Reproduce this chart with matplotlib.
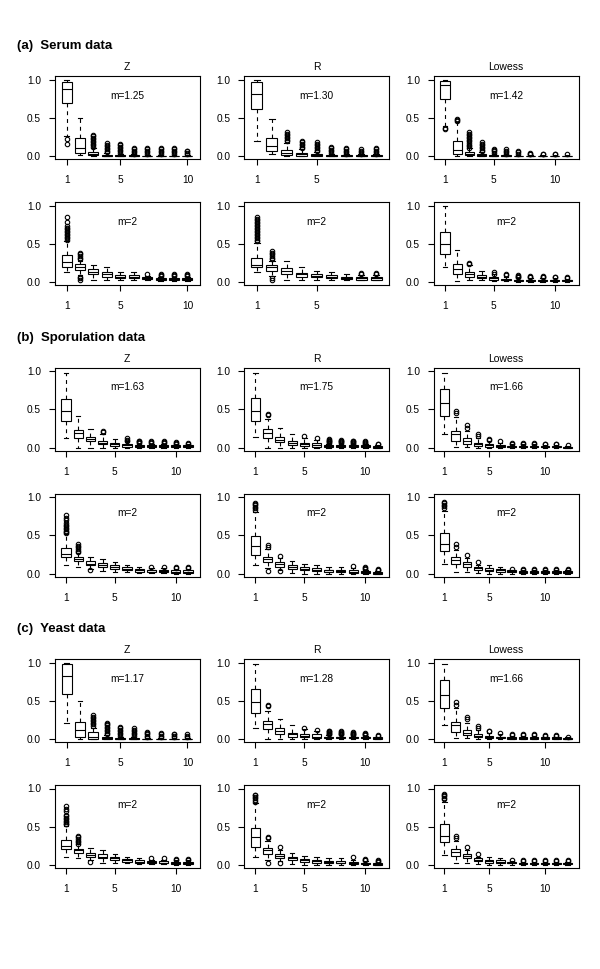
import matplotlib
matplotlib.use("Agg")
import matplotlib.pyplot as plt

plt.rcParams["font.family"] = ["Liberation Sans", "DejaVu Sans"]

# each box: (lower whisker, Q1, median, Q3, upper whisker)
# ---------------- (a) Serum data ----------------
serum_z1_boxes = [
    (0.26, 0.69, 0.87, 0.97, 1.00), (0.01, 0.035, 0.11, 0.24, 0.50),
    (0.00, 0.01, 0.025, 0.05, 0.11), (0.00, 0.00, 0.005, 0.015, 0.04),
    (0.00, 0.00, 0.003, 0.01, 0.03), (0.00, 0.00, 0.002, 0.008, 0.02),
    (0.00, 0.00, 0.002, 0.006, 0.015), (0.00, 0.00, 0.002, 0.006, 0.015),
    (0.00, 0.00, 0.002, 0.006, 0.015), (0.00, 0.00, 0.001, 0.005, 0.012),
]
serum_z1_fliers = [
    [0.22, 0.16], [],
    [0.12, 0.14, 0.16, 0.18, 0.20, 0.22, 0.24, 0.26, 0.27],
    [0.05, 0.07, 0.09, 0.11, 0.13, 0.15, 0.17],
    [0.04, 0.06, 0.08, 0.10, 0.12, 0.14, 0.16],
    [0.03, 0.05, 0.07, 0.09, 0.11],
    [0.03, 0.05, 0.07, 0.09, 0.10],
    [0.03, 0.05, 0.07, 0.09, 0.10],
    [0.03, 0.05, 0.07, 0.09, 0.11],
    [0.02, 0.04, 0.06, 0.07],
]
serum_r1_boxes = [
    (0.19, 0.61, 0.81, 0.97, 1.00), (0.03, 0.06, 0.13, 0.24, 0.49),
    (0.00, 0.01, 0.04, 0.08, 0.17), (0.00, 0.005, 0.02, 0.04, 0.09),
    (0.00, 0.00, 0.01, 0.02, 0.05), (0.00, 0.00, 0.005, 0.01, 0.03),
    (0.00, 0.00, 0.003, 0.008, 0.02), (0.00, 0.00, 0.003, 0.008, 0.02),
    (0.00, 0.00, 0.003, 0.008, 0.02),
]
serum_r1_fliers = [
    [], [],
    [0.19, 0.21, 0.23, 0.25, 0.27, 0.29, 0.31],
    [0.10, 0.12, 0.14, 0.16, 0.18, 0.20],
    [0.06, 0.08, 0.10, 0.12, 0.14, 0.16, 0.18],
    [0.04, 0.06, 0.08, 0.10, 0.12],
    [0.03, 0.05, 0.07, 0.09, 0.10],
    [0.03, 0.05, 0.07, 0.09],
    [0.03, 0.05, 0.07, 0.09, 0.10],
]
serum_l1_boxes = [
    (0.39, 0.74, 0.93, 0.98, 1.00), (0.00, 0.03, 0.08, 0.20, 0.44),
    (0.00, 0.01, 0.02, 0.05, 0.10), (0.00, 0.00, 0.01, 0.02, 0.05),
    (0.00, 0.00, 0.005, 0.01, 0.03), (0.00, 0.00, 0.003, 0.008, 0.02),
    (0.00, 0.00, 0.003, 0.006, 0.015), (0.00, 0.00, 0.002, 0.005, 0.01),
    (0.00, 0.00, 0.002, 0.005, 0.01), (0.00, 0.00, 0.002, 0.005, 0.01),
    (0.00, 0.00, 0.002, 0.005, 0.01),
]
serum_l1_fliers = [
    [0.37, 0.35], [0.46, 0.47, 0.48],
    [0.11, 0.13, 0.15, 0.17, 0.19, 0.21, 0.23, 0.25, 0.27, 0.29, 0.31],
    [0.06, 0.08, 0.10, 0.12, 0.14, 0.16, 0.18],
    [0.04, 0.06, 0.08, 0.09],
    [0.03, 0.05, 0.07, 0.09],
    [0.03, 0.05, 0.07],
    [0.02, 0.03, 0.04], [0.02, 0.03], [0.02, 0.03], [0.02],
]
serum_z2_boxes = [
    (0.13, 0.20, 0.26, 0.35, 0.53), (0.09, 0.16, 0.20, 0.23, 0.28),
    (0.03, 0.10, 0.13, 0.17, 0.22), (0.03, 0.07, 0.10, 0.13, 0.19),
    (0.02, 0.05, 0.07, 0.09, 0.13), (0.02, 0.05, 0.07, 0.09, 0.13),
    (0.02, 0.035, 0.05, 0.06, 0.08), (0.01, 0.03, 0.04, 0.05, 0.07),
    (0.01, 0.03, 0.04, 0.05, 0.07), (0.01, 0.03, 0.04, 0.05, 0.07),
]
serum_z2_fliers = [
    [0.55, 0.57, 0.59, 0.61, 0.63, 0.65, 0.67, 0.69, 0.71, 0.73, 0.78, 0.85],
    [0.30, 0.32, 0.34, 0.36, 0.38, 0.03, 0.05, 0.07],
    [], [], [], [],
    [0.10], [0.08, 0.09, 0.10], [0.08, 0.09, 0.10], [0.08, 0.09, 0.10],
]
serum_r2_boxes = [
    (0.13, 0.19, 0.22, 0.32, 0.51), (0.08, 0.15, 0.19, 0.22, 0.28),
    (0.02, 0.11, 0.14, 0.18, 0.27), (0.02, 0.07, 0.10, 0.12, 0.19),
    (0.02, 0.06, 0.08, 0.10, 0.14), (0.02, 0.05, 0.07, 0.09, 0.13),
    (0.02, 0.04, 0.05, 0.06, 0.10), (0.02, 0.03, 0.05, 0.06, 0.09),
    (0.02, 0.03, 0.05, 0.06, 0.09),
]
serum_r2_fliers = [
    [0.53, 0.55, 0.57, 0.59, 0.61, 0.63, 0.65, 0.67, 0.69, 0.71, 0.73,
     0.75, 0.77, 0.79, 0.81, 0.83, 0.85],
    [0.30, 0.32, 0.34, 0.36, 0.38, 0.40, 0.03, 0.05],
    [], [], [], [], [], [0.10, 0.12], [0.10, 0.12],
]
serum_l2_boxes = [
    (0.19, 0.36, 0.50, 0.66, 1.00), (0.01, 0.10, 0.17, 0.24, 0.42),
    (0.02, 0.07, 0.10, 0.13, 0.22), (0.02, 0.05, 0.07, 0.09, 0.15),
    (0.01, 0.03, 0.05, 0.06, 0.10), (0.01, 0.02, 0.03, 0.04, 0.07),
    (0.00, 0.01, 0.02, 0.03, 0.05), (0.00, 0.01, 0.02, 0.03, 0.05),
    (0.00, 0.01, 0.02, 0.03, 0.05), (0.00, 0.01, 0.02, 0.03, 0.05),
    (0.00, 0.01, 0.02, 0.03, 0.04),
]
serum_l2_fliers = [
    [], [], [0.24, 0.25], [], [0.11, 0.13], [0.09, 0.11],
    [0.06, 0.07, 0.08, 0.09], [0.06, 0.07, 0.08], [0.06, 0.07, 0.08],
    [0.06, 0.07], [0.05, 0.06],
]

# ---------------- (b) Sporulation data ----------------
spor_z1_boxes = [
    (0.125, 0.34, 0.48, 0.64, 0.97), (0.00, 0.13, 0.19, 0.23, 0.41),
    (0.00, 0.08, 0.11, 0.14, 0.245), (0.00, 0.04, 0.06, 0.09, 0.17),
    (0.00, 0.02, 0.04, 0.06, 0.11), (0.00, 0.01, 0.03, 0.05, 0.08),
    (0.00, 0.01, 0.02, 0.03, 0.05), (0.00, 0.01, 0.02, 0.03, 0.05),
    (0.00, 0.01, 0.02, 0.03, 0.05), (0.00, 0.01, 0.02, 0.03, 0.04),
    (0.00, 0.01, 0.02, 0.03, 0.04),
]
spor_z1_fliers = [
    [], [], [], [0.20, 0.22], [], [0.09, 0.10, 0.12],
    [0.06, 0.07, 0.08, 0.09], [0.06, 0.07, 0.08], [0.06, 0.07, 0.08],
    [0.05, 0.06, 0.07], [0.05, 0.06],
]
spor_r1_boxes = [
    (0.14, 0.34, 0.48, 0.65, 0.98), (0.00, 0.13, 0.19, 0.24, 0.37),
    (0.00, 0.07, 0.10, 0.14, 0.26), (0.00, 0.03, 0.06, 0.08, 0.18),
    (0.00, 0.02, 0.04, 0.06, 0.13), (0.00, 0.01, 0.03, 0.06, 0.10),
    (0.00, 0.01, 0.02, 0.03, 0.05), (0.00, 0.01, 0.02, 0.03, 0.05),
    (0.00, 0.01, 0.02, 0.03, 0.04), (0.00, 0.01, 0.02, 0.03, 0.04),
    (0.00, 0.00, 0.01, 0.02, 0.03),
]
spor_r1_fliers = [
    [], [0.43, 0.44], [], [], [0.15], [0.12],
    [0.06, 0.07, 0.08, 0.09, 0.10, 0.11], [0.06, 0.07, 0.08, 0.09, 0.10],
    [0.05, 0.06, 0.07, 0.08, 0.09], [0.05, 0.06, 0.07, 0.08], [0.04, 0.05],
]
spor_l1_boxes = [
    (0.18, 0.41, 0.58, 0.77, 0.98), (0.01, 0.09, 0.18, 0.22, 0.40),
    (0.01, 0.05, 0.08, 0.12, 0.21), (0.00, 0.02, 0.04, 0.06, 0.12),
    (0.00, 0.01, 0.03, 0.04, 0.08), (0.00, 0.01, 0.02, 0.03, 0.06),
    (0.00, 0.005, 0.01, 0.02, 0.04), (0.00, 0.005, 0.01, 0.02, 0.04),
    (0.00, 0.005, 0.01, 0.02, 0.04), (0.00, 0.005, 0.01, 0.02, 0.03),
    (0.00, 0.005, 0.01, 0.02, 0.03), (0.00, 0.00, 0.005, 0.01, 0.02),
]
spor_l1_fliers = [
    [], [0.45, 0.48], [0.26, 0.29], [0.15, 0.17], [0.10, 0.11], [0.08],
    [0.05, 0.06], [0.05, 0.06], [0.05, 0.06], [0.04, 0.05], [0.04, 0.05],
    [0.03],
]
spor_z2_boxes = [
    (0.11, 0.21, 0.25, 0.33, 0.51), (0.09, 0.16, 0.19, 0.21, 0.27),
    (0.06, 0.11, 0.13, 0.16, 0.22), (0.03, 0.09, 0.11, 0.14, 0.19),
    (0.02, 0.06, 0.09, 0.11, 0.15), (0.02, 0.04, 0.06, 0.08, 0.11),
    (0.01, 0.02, 0.04, 0.06, 0.09), (0.01, 0.02, 0.04, 0.05, 0.07),
    (0.01, 0.02, 0.03, 0.05, 0.07), (0.00, 0.01, 0.02, 0.04, 0.06),
    (0.00, 0.01, 0.02, 0.04, 0.06),
]
spor_z2_fliers = [
    [0.53, 0.54, 0.56, 0.58, 0.60, 0.62, 0.64, 0.66, 0.70, 0.73, 0.77],
    [0.28, 0.30, 0.32, 0.34, 0.36, 0.38],
    [0.04], [], [], [], [], [0.09], [0.09], [0.07, 0.08], [0.07, 0.08],
]
spor_r2_boxes = [
    (0.11, 0.24, 0.36, 0.49, 0.81), (0.07, 0.15, 0.19, 0.22, 0.32),
    (0.05, 0.09, 0.12, 0.15, 0.20), (0.01, 0.06, 0.09, 0.11, 0.16),
    (0.00, 0.04, 0.06, 0.08, 0.12), (0.00, 0.03, 0.05, 0.07, 0.11),
    (0.00, 0.02, 0.04, 0.05, 0.09), (0.00, 0.02, 0.03, 0.05, 0.09),
    (0.00, 0.01, 0.02, 0.04, 0.07), (0.00, 0.01, 0.02, 0.03, 0.05),
    (0.00, 0.00, 0.01, 0.02, 0.03),
]
spor_r2_fliers = [
    [0.83, 0.85, 0.87, 0.89, 0.91, 0.92],
    [0.35, 0.37, 0.03], [0.23, 0.03], [], [], [], [], [], [0.10],
    [0.06, 0.07, 0.08], [0.04, 0.05, 0.06],
]
spor_l2_boxes = [
    (0.13, 0.30, 0.38, 0.53, 0.82), (0.02, 0.12, 0.17, 0.21, 0.31),
    (0.02, 0.09, 0.12, 0.15, 0.20), (0.01, 0.05, 0.07, 0.09, 0.11),
    (0.00, 0.03, 0.05, 0.07, 0.11), (0.00, 0.02, 0.04, 0.06, 0.09),
    (0.00, 0.02, 0.03, 0.04, 0.05), (0.00, 0.01, 0.02, 0.03, 0.04),
    (0.00, 0.01, 0.02, 0.03, 0.04), (0.00, 0.01, 0.02, 0.03, 0.04),
    (0.00, 0.01, 0.02, 0.03, 0.04), (0.00, 0.01, 0.02, 0.03, 0.04),
]
spor_l2_fliers = [
    [0.86, 0.88, 0.90, 0.92, 0.93], [0.35, 0.38], [0.24], [0.15], [], [],
    [0.06], [0.05, 0.06], [0.05, 0.06], [0.05, 0.06], [0.05, 0.06],
    [0.05, 0.06],
]

# ---------------- (c) Yeast data ----------------
yeast_z1_boxes = [
    (0.21, 0.59, 0.83, 0.98, 1.00), (0.00, 0.02, 0.12, 0.22, 0.50),
    (0.00, 0.00, 0.03, 0.09, 0.15), (0.00, 0.00, 0.01, 0.03, 0.05),
    (0.00, 0.00, 0.005, 0.01, 0.03), (0.00, 0.00, 0.005, 0.01, 0.03),
    (0.00, 0.00, 0.003, 0.006, 0.015), (0.00, 0.00, 0.003, 0.006, 0.015),
    (0.00, 0.00, 0.003, 0.006, 0.015), (0.00, 0.00, 0.003, 0.006, 0.015),
]
yeast_z1_fliers = [
    [], [],
    [0.17, 0.19, 0.21, 0.23, 0.25, 0.27, 0.29, 0.31],
    [0.06, 0.08, 0.10, 0.12, 0.14, 0.16, 0.18, 0.20, 0.21],
    [0.04, 0.06, 0.08, 0.10, 0.12, 0.14, 0.16],
    [0.04, 0.06, 0.08, 0.10, 0.12, 0.14],
    [0.02, 0.04, 0.06, 0.08, 0.09],
    [0.02, 0.04, 0.06, 0.08],
    [0.02, 0.04, 0.06, 0.07],
    [0.02, 0.04, 0.06],
]
# the yeast R / Lowess and m=2 panels look identical to the sporulation ones
yeast_r1_boxes, yeast_r1_fliers = spor_r1_boxes, spor_r1_fliers
yeast_l1_boxes, yeast_l1_fliers = spor_l1_boxes, spor_l1_fliers
yeast_z2_boxes, yeast_z2_fliers = spor_z2_boxes, spor_z2_fliers
yeast_r2_boxes, yeast_r2_fliers = spor_r2_boxes, spor_r2_fliers
yeast_l2_boxes, yeast_l2_fliers = spor_l2_boxes, spor_l2_fliers

section_titles = ["(a)  Serum data", "(b)  Sporulation data", "(c)  Yeast data"]
column_titles = ["Z", "R", "Lowess"]
m_labels = [
    ["m=1.25", "m=1.30", "m=1.42"],
    ["m=1.63", "m=1.75", "m=1.66"],
    ["m=1.17", "m=1.28", "m=1.66"],
]
panels = [
    [[(serum_z1_boxes, serum_z1_fliers), (serum_r1_boxes, serum_r1_fliers), (serum_l1_boxes, serum_l1_fliers)],
     [(serum_z2_boxes, serum_z2_fliers), (serum_r2_boxes, serum_r2_fliers), (serum_l2_boxes, serum_l2_fliers)]],
    [[(spor_z1_boxes, spor_z1_fliers), (spor_r1_boxes, spor_r1_fliers), (spor_l1_boxes, spor_l1_fliers)],
     [(spor_z2_boxes, spor_z2_fliers), (spor_r2_boxes, spor_r2_fliers), (spor_l2_boxes, spor_l2_fliers)]],
    [[(yeast_z1_boxes, yeast_z1_fliers), (yeast_r1_boxes, yeast_r1_fliers), (yeast_l1_boxes, yeast_l1_fliers)],
     [(yeast_z2_boxes, yeast_z2_fliers), (yeast_r2_boxes, yeast_r2_fliers), (yeast_l2_boxes, yeast_l2_fliers)]],
]

W, H = 600, 969
LW = 0.8


def draw_panel(ax, boxes, fliers, label):
    stats = []
    for (lo, q1, med, q3, hi), f in zip(boxes, fliers):
        stats.append(dict(whislo=lo, q1=q1, med=med, q3=q3, whishi=hi, fliers=f))
    n = len(stats)
    ax.bxp(
        stats,
        positions=list(range(1, n + 1)),
        widths=0.75,
        capwidths=0.37,
        patch_artist=True,
        manage_ticks=False,
        boxprops=dict(facecolor="white", edgecolor="black", linewidth=LW),
        whiskerprops=dict(color="black", linewidth=LW, linestyle=(0, (3.5, 3.5))),
        capprops=dict(color="black", linewidth=LW),
        medianprops=dict(color="black", linewidth=LW),
        flierprops=dict(marker="o", markerfacecolor="none", markeredgecolor="black",
                        markersize=3.2, markeredgewidth=0.8, linestyle="none"),
    )
    pad = 0.04 * n
    ax.set_xlim(0.5 - pad, n + 0.5 + pad)
    ax.set_ylim(-0.04, 1.04)
    ticks = [t for t in (1, 5, 10) if t <= n + 0.5 + pad]
    ax.set_xticks(ticks)
    ax.set_xticklabels([str(t) for t in ticks])
    ax.set_yticks([0.0, 0.5, 1.0])
    ax.set_yticklabels(["0.0", "0.5", "1.0"])
    ax.tick_params(axis="both", direction="out", length=4.3, width=LW,
                   labelsize=7.3, colors="black")
    ax.tick_params(axis="x", pad=7.5)
    ax.tick_params(axis="y", pad=5.5)
    for sp in ax.spines.values():
        sp.set_linewidth(LW)
    ax.text(0.5, 0.79, label, transform=ax.get_yaxis_transform(),
            ha="center", va="center", fontsize=7.3)


fig = plt.figure(figsize=(W / 100, H / 100), dpi=100)
col_left = [54.5, 244, 433.5]
col_w = 145
section_off = [0, 291.5, 583]
zero_y = [156, 282]      # pixel row of y=0 in the serum block
unit = 76.5              # pixels per 1.0

for s in range(3):
    fig.text(17 / W, 1 - (46 + section_off[s]) / H, section_titles[s],
             fontsize=9.5, fontweight="bold", va="center", ha="left")
    for r in range(2):
        y0 = zero_y[r] + section_off[s]
        top = y0 - 1.04 * unit
        bottom = y0 + 0.04 * unit
        for c in range(3):
            ax = fig.add_axes([col_left[c] / W, 1 - bottom / H,
                               col_w / W, (bottom - top) / H])
            boxes, fliers = panels[s][r][c]
            label = m_labels[s][c] if r == 0 else "m=2"
            draw_panel(ax, boxes, fliers, label)
            if r == 0:
                ax.text(0.5, 1 + 9 / (bottom - top), column_titles[c],
                        transform=ax.transAxes, ha="center", va="center",
                        fontsize=7.5)

fig.savefig("out.png", dpi=100)
